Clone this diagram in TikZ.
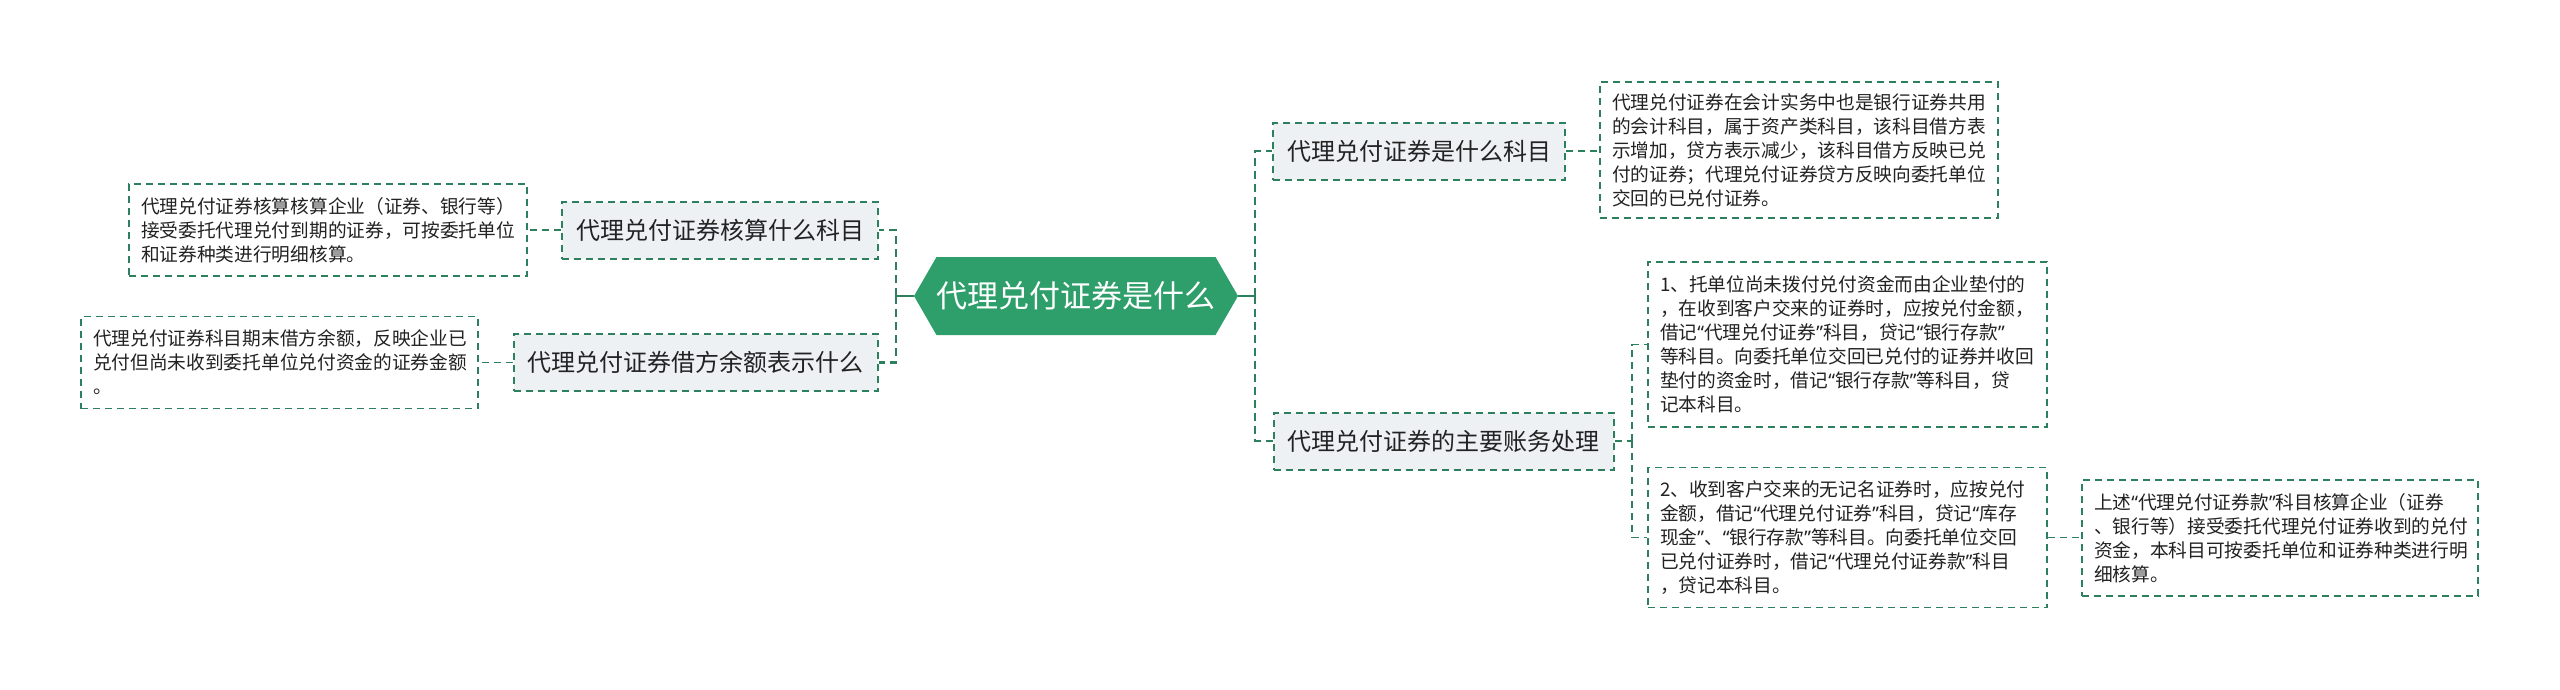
\documentclass[tikz,border=0pt]{standalone}
\usepackage{fontspec}
\setmainfont{Noto Sans CJK SC}
\newfontfamily\quotefont{Noto Sans}
\newcommand\oq{{\quotefont “}}
\newcommand\cq{{\quotefont ”}}
\usetikzlibrary{shapes.symbols}

\definecolor{mapgreen}{RGB}{46,158,106}
\definecolor{linegreen}{RGB}{45,128,94}
\definecolor{topicgray}{RGB}{238,241,244}
\definecolor{inkgray}{RGB}{34,34,34}

\begin{document}
\begin{tikzpicture}[
  x=1pt, y=-1pt,
  root/.style   = {signal, signal to=west and east, signal pointer angle=120,
                   fill=mapgreen, text=white, font=\fontsize{31}{36}\selectfont,
                   minimum width=324, minimum height=78, inner sep=0pt},
  topic/.style  = {draw=linegreen, line width=2pt, dash pattern=on 7pt off 5pt,
                   fill=topicgray, text=inkgray, font=\fontsize{24}{28}\selectfont,
                   inner xsep=14pt, minimum height=57},
  note/.style   = {draw=linegreen, line width=1.8pt, dash pattern=on 7pt off 5pt,
                   fill=white, text=inkgray, font=\fontsize{18.7}{24}\selectfont,
                   align=left, text width=374pt, inner xsep=12pt},
  stub/.style   = {draw=linegreen, line width=2.8pt},
  trunk/.style  = {draw=linegreen, line width=2.8pt, dash pattern=on 8pt off 5pt},
  link/.style   = {draw=linegreen, line width=1.8pt, dash pattern=on 7pt off 5pt},
]
\useasboundingbox (0,0) rectangle (2560,689);

% ---- root -------------------------------------------------------------------
\node[root] (root) at (1076,296) {代理兑付证券是什么};
\coordinate (jL) at (896,296);
\coordinate (jR) at (1255,296);

% ---- right side -------------------------------------------------------------
\node[topic] (what) at (1419,151) {代理兑付证券是什么科目};
\node[note, minimum height=136] (whatNote) at (1799,150)
  {代理兑付证券在会计实务中也是银行证券共用\\
   的会计科目，属于资产类科目，该科目借方表\\
   示增加，贷方表示减少，该科目借方反映已兑\\
   付的证券；代理兑付证券贷方反映向委托单位\\
   交回的已兑付证券。};

\node[topic] (entries) at (1443.5,441) {代理兑付证券的主要账务处理};
\coordinate (jE) at (1632,441);
\node[note, text width=375pt, minimum height=165] (stepOne) at (1847.5,344.5)
  {1、托单位尚未拨付兑付资金而由企业垫付的\\
   ，在收到客户交来的证券时，应按兑付金额，\\
   借记\oq 代理兑付证券\cq 科目，贷记\oq 银行存款\cq\\
   等科目。向委托单位交回已兑付的证券并收回\\
   垫付的资金时，借记\oq 银行存款\cq 等科目，贷\\
   记本科目。};
\node[note, text width=375pt, minimum height=140] (stepTwo) at (1847.5,537.5)
  {2、收到客户交来的无记名证券时，应按兑付\\
   金额，借记\oq 代理兑付证券\cq 科目，贷记\oq 库存\\
   现金\cq、\oq 银行存款\cq 等科目。向委托单位交回\\
   已兑付证券时，借记\oq 代理兑付证券款\cq 科目\\
   ，贷记本科目。};
\node[note, text width=372pt, minimum height=116] (fundNote) at (2280,538)
  {上述\oq 代理兑付证券款\cq 科目核算企业（证券\\
   、银行等）接受委托代理兑付证券收到的兑付\\
   资金，本科目可按委托单位和证券种类进行明\\
   细核算。};

% ---- left side --------------------------------------------------------------
\node[topic] (account) at (720,230) {代理兑付证券核算什么科目};
\node[note, minimum height=92] (accountNote) at (328,230)
  {代理兑付证券核算核算企业（证券、银行等）\\
   接受委托代理兑付到期的证券，可按委托单位\\
   和证券种类进行明细核算。};

\node[topic] (balance) at (695.5,362.5) {代理兑付证券借方余额表示什么};
\node[note, text width=373pt, minimum height=92] (balanceNote) at (279.5,362.5)
  {代理兑付证券科目期末借方余额，反映企业已\\
   兑付但尚未收到委托单位兑付资金的证券金额\\
   。};

% root -> topics
\draw[stub] (root.east) -- (jR);
\draw[trunk] (jR) |- (what.west);
\draw[trunk] (jR) |- (entries.west);
\draw[stub] (root.west) -- (jL);
\draw[trunk] (jL) |- (account.east);
\draw[trunk] (jL) |- (balance.east);

% topics -> notes
\draw[link] (what.east) -- (what.east -| whatNote.west);
\draw[link] (entries.east) -- (jE);
\draw[link] (jE) |- (stepOne.west);
\draw[link] (jE) |- (stepTwo.west);
\draw[link] (stepTwo.east) -- (stepTwo.east -| fundNote.west);
\draw[link] (account.west) -- (accountNote.east);
\draw[link] (balance.west) -- (balanceNote.east);

\end{tikzpicture}
\end{document}
